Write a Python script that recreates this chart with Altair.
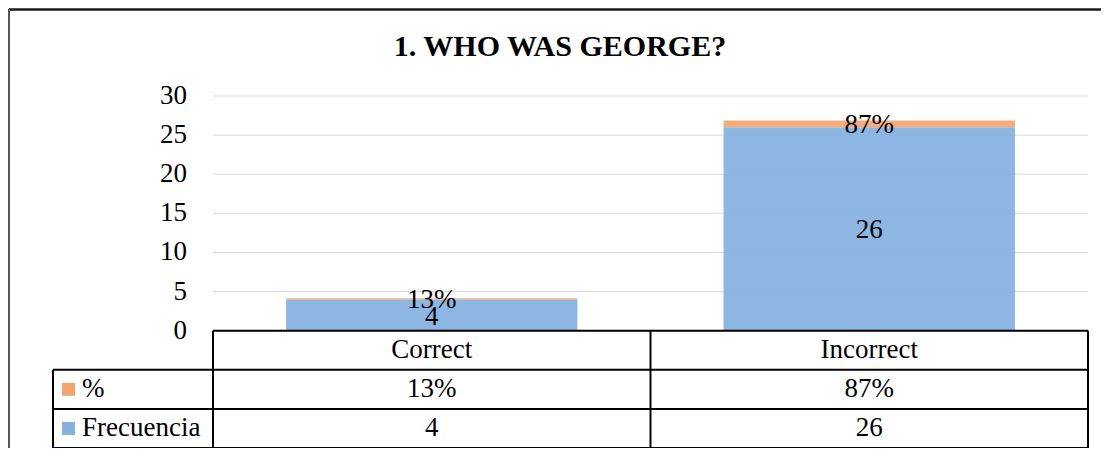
import altair as alt
import pandas as pd

# ---- data ----
categories = ["Correct", "Incorrect"]
frecuencia = [4, 26]
porcentaje = [0.13, 0.87]
pct_labels = ["13%", "87%"]
series = ["%", "Frecuencia"]
y_ticks = [0, 5, 10, 15, 20, 25, 30]
title_text = "1. WHO WAS GEORGE?"

# ---- style ----
BLUE = "#84B0E0"
ORANGE = "#F4A672"
FONT = "'Liberation Serif', 'Times New Roman', Times, serif"
FS = 27
W, H = 1035, 352
X0 = -160 / 437.5          # left edge of the table's legend column (in category units)
YMIN, YMAX = -15, 30       # table occupies the negative part of the y scale
ROW = 5                    # one table row = 5 y-units
HALF = 0.333               # half bar width (category units)

xs = alt.Scale(domain=[X0, len(categories)], nice=False, zero=False)
ys = alt.Scale(domain=[YMIN, YMAX], nice=False, zero=False)

# ---- tables built from the arrays ----
bar_rows = []
for i, c in enumerate(categories):
    f, p, pl = frecuencia[i], porcentaje[i], pct_labels[i]
    bar_rows.append({"i": i, "cat": c, "series": "Frecuencia", "y": 0, "y2": f,
                     "label": str(f)})
    bar_rows.append({"i": i, "cat": c, "series": "%", "y": f, "y2": f + p,
                     "label": pl})
bars_df = pd.DataFrame(bar_rows)

grid_df = pd.DataFrame({"t": [t for t in y_ticks if t > 0]})
ticks_df = pd.DataFrame({"t": y_ticks})

n = len(categories)
nrows = len(series)
seg = [{"x": 0, "x2": n, "y": 0, "y2": 0}]
for r in range(1, nrows + 2):
    seg.append({"x": X0, "x2": n, "y": -r * ROW, "y2": -r * ROW})
seg.append({"x": X0, "x2": X0, "y": -ROW, "y2": -(nrows + 1) * ROW})
for k in range(n + 1):
    seg.append({"x": k, "x2": k, "y": 0, "y2": -(nrows + 1) * ROW})
seg_df = pd.DataFrame(seg)

cell_rows = []
for i, c in enumerate(categories):
    cell_rows.append({"i": i, "r": 0, "text": c})
    cell_rows.append({"i": i, "r": 1, "text": pct_labels[i]})
    cell_rows.append({"i": i, "r": 2, "text": str(frecuencia[i])})
cells_df = pd.DataFrame(cell_rows)

legend_df = pd.DataFrame({"series": series, "r": list(range(1, nrows + 1))})

color = alt.Color("series:N", scale=alt.Scale(domain=series, range=[ORANGE, BLUE]),
                  legend=None)

# ---- layers ----
grid = alt.Chart(grid_df).mark_rule(color="#D9D9D9", strokeWidth=1).transform_calculate(
    a="0", b=str(n)
).encode(
    x=alt.X("a:Q", scale=xs, axis=None), x2="b:Q",
    y=alt.Y("t:Q", scale=ys, axis=None),
)

ylabels = alt.Chart(ticks_df).mark_text(
    align="right", baseline="middle", dx=-26, font=FONT, fontSize=FS, color="black"
).transform_calculate(a="0").encode(
    x=alt.X("a:Q", scale=xs, axis=None),
    y=alt.Y("t:Q", scale=ys, axis=None),
    text="t:Q",
)

bars = alt.Chart(bars_df).mark_bar(opacity=0.93).transform_calculate(
    xa=f"datum.i + 0.5 - {HALF}", xb=f"datum.i + 0.5 + {HALF}"
).encode(
    x=alt.X("xa:Q", scale=xs, axis=None), x2="xb:Q",
    y=alt.Y("y:Q", scale=ys, axis=None), y2="y2:Q",
    color=color,
)

bar_labels = alt.Chart(bars_df).mark_text(
    baseline="middle", font=FONT, fontSize=FS, color="black", dy=1.5
).transform_calculate(
    xc="datum.i + 0.5", ym="(datum.y + datum.y2) / 2"
).encode(
    x=alt.X("xc:Q", scale=xs, axis=None),
    y=alt.Y("ym:Q", scale=ys, axis=None),
    text="label:N",
)

table_lines = alt.Chart(seg_df).mark_rule(color="black", strokeWidth=2).encode(
    x=alt.X("x:Q", scale=xs, axis=None), x2="x2:Q",
    y=alt.Y("y:Q", scale=ys, axis=None), y2="y2:Q",
)

cells = alt.Chart(cells_df).mark_text(
    baseline="middle", font=FONT, fontSize=FS, color="black"
).transform_calculate(
    xc="datum.i + 0.5", yc=f"-(datum.r + 0.5) * {ROW}"
).encode(
    x=alt.X("xc:Q", scale=xs, axis=None),
    y=alt.Y("yc:Q", scale=ys, axis=None),
    text="text:N",
)

legend_sq = alt.Chart(legend_df).mark_square(size=169, opacity=1, xOffset=15.5).transform_calculate(
    xl=str(X0), yc=f"-(datum.r + 0.5) * {ROW}"
).encode(
    x=alt.X("xl:Q", scale=xs, axis=None),
    y=alt.Y("yc:Q", scale=ys, axis=None),
    color=color,
)

legend_txt = alt.Chart(legend_df).mark_text(
    align="left", baseline="middle", dx=29, font=FONT, fontSize=FS, color="black"
).transform_calculate(
    xl=str(X0), yc=f"-(datum.r + 0.5) * {ROW}"
).encode(
    x=alt.X("xl:Q", scale=xs, axis=None),
    y=alt.Y("yc:Q", scale=ys, axis=None),
    text="series:N",
)

title = alt.Chart(pd.DataFrame({"t": [title_text]})).mark_text(
    font=FONT, fontSize=30, fontWeight="bold", color="black",
    baseline="alphabetic", align="center"
).encode(x=alt.value(507), y=alt.value(-40), text="t:N")

frame_top = alt.Chart(pd.DataFrame({"a": [0]})).mark_rule(color="#1a1a1a", strokeWidth=2.5).encode(
    x=alt.value(-44), x2=alt.value(W + 20), y=alt.value(-86.5)
)
frame_left = alt.Chart(pd.DataFrame({"a": [0]})).mark_rule(color="#555555", strokeWidth=2).encode(
    x=alt.value(-44), y=alt.value(-87), y2=alt.value(H + 20)
)

chart = alt.layer(
    frame_top, frame_left, title, grid, bars, bar_labels, ylabels,
    table_lines, cells, legend_sq, legend_txt
).properties(
    width=W, height=H,
    autosize=alt.AutoSizeParams(type="none"),
    padding={"left": 45, "top": 88, "right": 13, "bottom": 0},
).configure_view(stroke=None)

chart.save("out.html", embed_options={"renderer": "svg", "actions": False})
